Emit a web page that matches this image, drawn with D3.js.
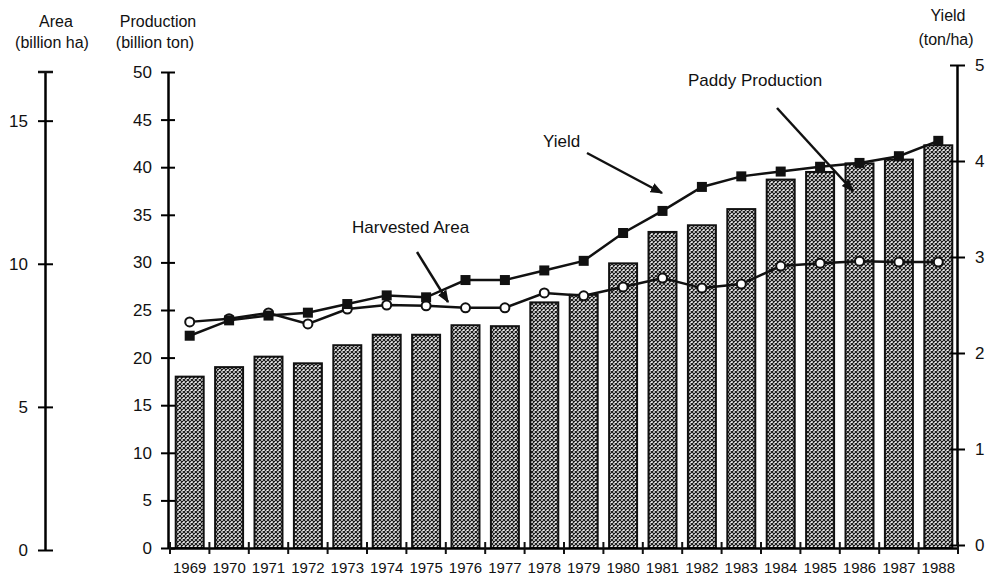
<!DOCTYPE html>
<html>
<head>
<meta charset="utf-8">
<script src="https://cdn.jsdelivr.net/npm/d3@7/dist/d3.min.js"></script>
<style>
  body{margin:0;background:#fff;}
  text{font-family:"Liberation Sans",Arial,sans-serif;fill:#111;}
</style>
</head>
<body>
<svg id="chart"></svg>
<script>
const years=["1969","1970","1971","1972","1973","1974","1975","1976","1977","1978",
             "1979","1980","1981","1982","1983","1984","1985","1986","1987","1988"];
// paddy production, billion ton (bars)
const production=[18.0,19.0,20.1,19.4,21.3,22.4,22.4,23.4,23.3,25.8,
                  26.6,29.9,33.2,33.9,35.6,38.7,39.5,40.4,40.8,42.3];
// harvested area, billion ha (open circles)
const area=[7.97,8.08,8.28,7.90,8.42,8.56,8.53,8.46,8.46,8.98,
            8.88,9.19,9.50,9.15,9.29,9.92,10.02,10.09,10.06,10.06];
// yield, ton/ha (filled squares)
const yieldVals=[2.18,2.34,2.39,2.42,2.51,2.60,2.58,2.76,2.76,2.86,
                 2.96,3.25,3.48,3.73,3.84,3.89,3.94,3.98,4.05,4.21];
const prodTicks=[0,5,10,15,20,25,30,35,40,45,50];
const areaTicks=[0,5,10,15];
const yieldTicks=[0,1,2,3,4,5];

const width=991,height=579;
let svg=d3.select("#chart").attr("width",width).attr("height",height);

// pattern for the bars
let defs=svg.append("defs");
let pat=defs.append("pattern").attr("id","hatch")
  .attr("patternUnits","userSpaceOnUse").attr("width",4).attr("height",4);
pat.append("rect").attr("width",4).attr("height",4).attr("fill","#f2f2f2");
pat.append("path").attr("d","M0,0L4,4M4,0L0,4").attr("stroke","#1a1a1a").attr("stroke-width",1.2);
defs.append("marker").attr("id","arrow").attr("viewBox","0 0 10 10")
  .attr("refX",9).attr("refY",5).attr("markerWidth",5).attr("markerHeight",5)
  .attr("orient","auto")
  .append("path").attr("d","M0,1L10,5L0,9Z").attr("fill","#111");

// scales
const x=d3.scaleBand().domain(years).range([170,958]).paddingInner(0.29).paddingOuter(0.145);
const yProd=d3.scaleLinear().domain([0,50]).range([548,72]);
const yArea=d3.scaleLinear().domain([0,16.7]).range([550,72]);
const yYield=d3.scaleLinear().domain([0,5]).range([545,65]);
const cx=d=>x(d)+x.bandwidth()/2;

// bars
svg.append("g").selectAll("rect").data(years).join("rect")
  .attr("x",d=>x(d))
  .attr("width",x.bandwidth())
  .attr("y",(d,i)=>yProd(production[i]))
  .attr("height",(d,i)=>yProd(0)-yProd(production[i]))
  .attr("fill","url(#hatch)")
  .attr("stroke","#111")
  .attr("stroke-width",2);

// axes
function crossTicks(g,size){
  g.selectAll(".tick line").attr("x1",size).attr("stroke-width",2);
  g.select(".domain").attr("stroke-width",2.5);
  g.selectAll(".tick text").attr("font-size",17).attr("fill","#111");
}
svg.append("g").attr("transform","translate(168,0)")
  .call(d3.axisLeft(yProd).tickValues(prodTicks).tickSize(7).tickPadding(9).tickSizeOuter(0))
  .call(g=>crossTicks(g,7));

svg.append("g").attr("transform","translate(45,0)")
  .call(d3.axisLeft(yArea).tickValues(areaTicks).tickSize(7).tickPadding(10).tickSizeOuter(0))
  .call(g=>crossTicks(g,8));
// cap at the top of the area axis
svg.append("line").attr("x1",38).attr("x2",53).attr("y1",72).attr("y2",72)
  .attr("stroke","#111").attr("stroke-width",2.5);

let yAx=svg.append("g").attr("transform","translate(957,0)")
  .call(d3.axisRight(yYield).tickValues(yieldTicks).tickFormat(d3.format("d"))
    .tickSize(8).tickPadding(10).tickSizeOuter(0));
yAx.selectAll(".tick line").attr("x1",-7).attr("stroke-width",2);
yAx.select(".domain").attr("stroke-width",2.5);
yAx.selectAll(".tick text").attr("font-size",17).attr("fill","#111");

// x axis: labels under bars, ticks on band edges
let xAx=svg.append("g").attr("transform","translate(0,548)")
  .call(d3.axisBottom(x).tickSize(0).tickPadding(14));
xAx.select(".domain").attr("stroke-width",2.5);
xAx.selectAll(".tick text").attr("font-size",15).attr("fill","#111");
const edge=(x.step()-x.bandwidth())/2;
const edges=years.map(d=>x(d)-edge).concat([x(years[years.length-1])+x.bandwidth()+edge]);
svg.append("g").selectAll("line").data(edges).join("line")
  .attr("x1",d=>d).attr("x2",d=>d).attr("y1",542).attr("y2",554)
  .attr("stroke","#111").attr("stroke-width",2);

// harvested area line
const areaLine=d3.line().x((d,i)=>cx(years[i])).y(d=>yArea(d));
svg.append("path").datum(area).attr("d",areaLine)
  .attr("fill","none").attr("stroke","#111").attr("stroke-width",2.5);
svg.append("g").selectAll("circle").data(area).join("circle")
  .attr("cx",(d,i)=>cx(years[i])).attr("cy",d=>yArea(d)).attr("r",4.5)
  .attr("fill","#fff").attr("stroke","#111").attr("stroke-width",2);

// yield line
const yieldLine=d3.line().x((d,i)=>cx(years[i])).y(d=>yYield(d));
svg.append("path").datum(yieldVals).attr("d",yieldLine)
  .attr("fill","none").attr("stroke","#111").attr("stroke-width",2.5);
svg.append("g").selectAll("rect").data(yieldVals).join("rect")
  .attr("x",(d,i)=>cx(years[i])-5).attr("y",d=>yYield(d)-5)
  .attr("width",10).attr("height",10).attr("fill","#111");

// axis titles
const titles=[
  {t:"Area",x:56,y:27},{t:"(billion ha)",x:52,y:48},
  {t:"Production",x:158,y:27},{t:"(billion ton)",x:155,y:48},
  {t:"Yield",x:948,y:21},{t:"(ton/ha)",x:946,y:45}
];
svg.append("g").selectAll("text").data(titles).join("text")
  .attr("x",d=>d.x).attr("y",d=>d.y).attr("text-anchor","middle")
  .attr("font-size",16).text(d=>d.t);

// annotations
const notes=[
  {t:"Yield",x:543,y:147,x1:587,y1:153,x2:662,y2:193},
  {t:"Harvested Area",x:352,y:233,x1:417,y1:252,x2:448,y2:302},
  {t:"Paddy Production",x:688,y:86,x1:777,y1:108,x2:853,y2:191}
];
let ann=svg.append("g");
ann.selectAll("text").data(notes).join("text")
  .attr("x",d=>d.x).attr("y",d=>d.y).attr("font-size",17).text(d=>d.t);
ann.selectAll("line").data(notes).join("line")
  .attr("x1",d=>d.x1).attr("y1",d=>d.y1).attr("x2",d=>d.x2).attr("y2",d=>d.y2)
  .attr("stroke","#111").attr("stroke-width",2.5).attr("marker-end","url(#arrow)");
</script>
</body>
</html>
